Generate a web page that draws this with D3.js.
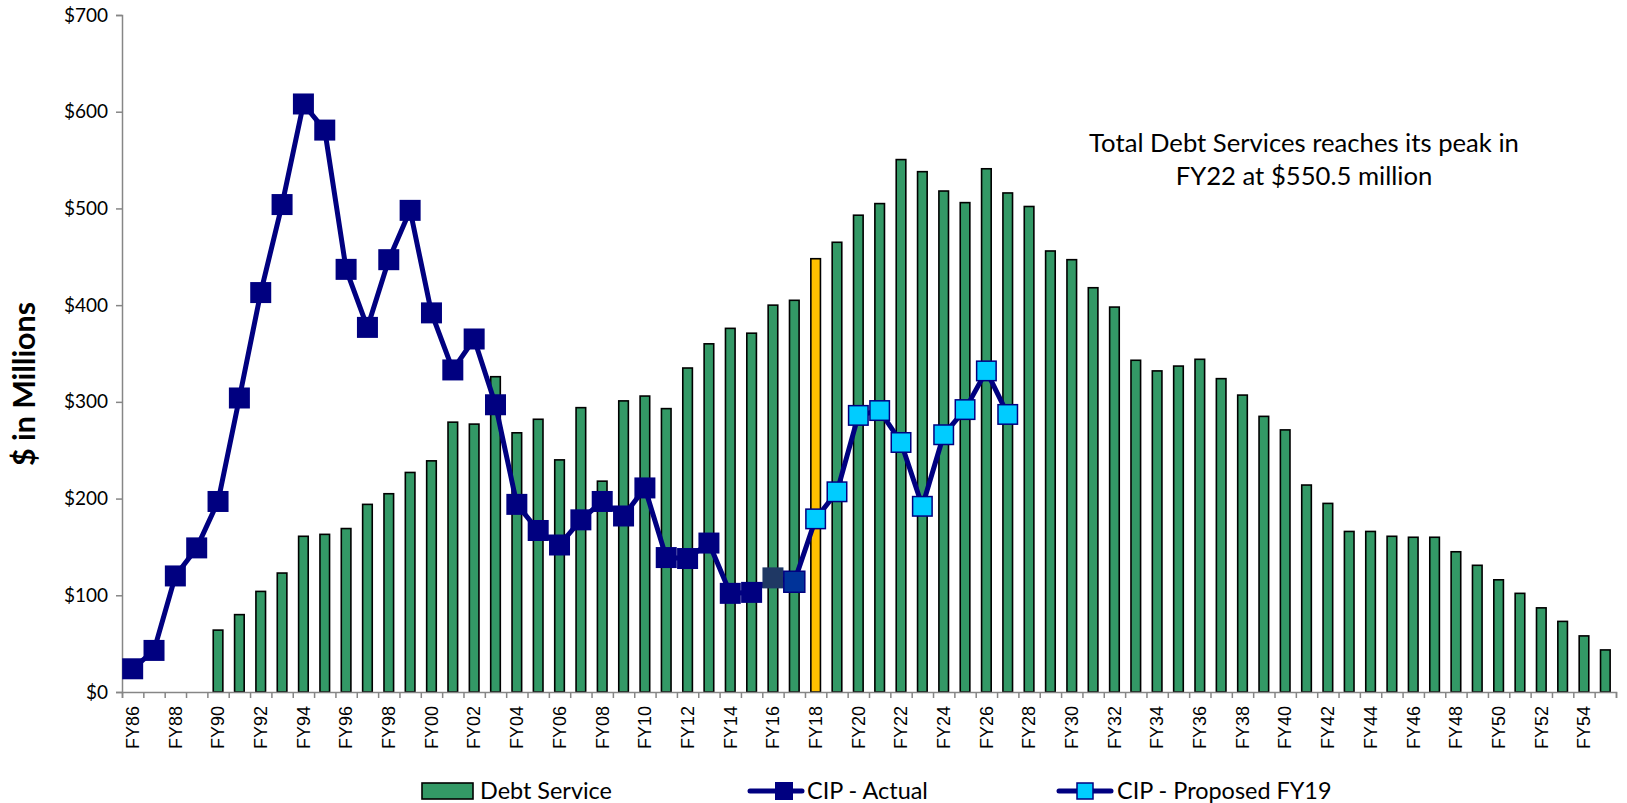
<!DOCTYPE html>
<html>
<head>
<meta charset="utf-8">
<script src="https://cdn.jsdelivr.net/npm/d3@7"></script>
<style>
  body { margin: 0; background: #fff; }
  svg { display: block; }
</style>
</head>
<body>
<svg id="chart"></svg>
<script>
// fiscal years FY86 .. FY55
const years = d3.range(1986, 2056).map(y => 'FY' + String(y % 100).padStart(2, '0'));

// Debt Service, FY90 .. FY55 ($ millions)
const debtYears = years.slice(4);
const debtService = [
  64, 80, 104, 123, 161, 163, 169, 194, 205, 227,
  239, 279, 277, 326, 268, 282, 240, 294, 218, 301,
  306, 293, 335, 360, 376, 371, 400, 405, 448, 465,
  493, 505, 550.5, 538, 518, 506, 541, 516, 502, 456,
  447, 418, 398, 343, 332, 337, 344, 324, 307, 285,
  271, 214, 195, 166, 166, 161, 160, 160, 145, 131,
  116, 102, 87, 73, 58, 43.5
];

// CIP - Actual, FY86 .. FY17
const cipActualYears = years.slice(0, 32);
const cipActual = [
  24, 43, 120, 149, 197, 304, 413, 504, 608, 581,
  437, 377, 447, 498, 392, 333, 365, 297, 194, 167,
  152, 178, 197, 182, 211, 139, 138, 154, 102, 103,
  118, 114
];

// CIP - Proposed FY19, FY18 .. FY27
const cipProposedYears = years.slice(32, 42);
const cipProposed = [179, 207, 286, 291, 258, 192, 266, 292, 332, 287];

const yTicks = [0, 100, 200, 300, 400, 500, 600, 700];

const W = 1627, H = 803;
const mLeft = 122, mRight = 1616, mTop = 15, mBottom = 692;

const svg = d3.select('#chart').attr('width', W).attr('height', H);

const x = d3.scaleBand()
  .domain(years)
  .range([mLeft, mRight])
  .paddingInner(0.55)
  .paddingOuter(0.275);
const cx = d => x(d) + x.bandwidth() / 2;

const y = d3.scaleLinear().domain([0, 700]).range([mBottom, mTop]);

const navy = '#000080';
const calibri = 'Lato, "Open Sans", sans-serif';

// scale a text's font size so it spans the wanted width
function fit(sel, width) {
  const base = +sel.attr('font-size');
  const w = sel.node().getComputedTextLength();
  sel.attr('font-size', (base * width / w).toFixed(2));
}

// bars
const bars = debtYears.map((c, i) => ({ c, v: debtService[i] }));
svg.append('g')
  .selectAll('rect')
  .data(bars)
  .join('rect')
    .attr('x', d => x(d.c))
    .attr('y', d => y(d.v))
    .attr('width', x.bandwidth())
    .attr('height', d => y(0) - y(d.v))
    .attr('fill', d => d.c === 'FY18' ? '#FFC000' : '#339966')
    .attr('stroke', '#000')
    .attr('stroke-width', 1.6);

// axes
const yAxis = d3.axisLeft(y).tickValues(yTicks).tickFormat(d => '$' + d).tickSize(6).tickPadding(8);
const gy = svg.append('g').attr('transform', `translate(${mLeft},0)`).call(yAxis);
gy.selectAll('path, line').attr('stroke', '#868686').attr('stroke-width', 1.5);
gy.selectAll('text').attr('font-family', calibri).attr('font-size', 19).attr('fill', '#000');

const xb = d3.scaleLinear().domain([0, years.length]).range([mLeft, mRight]);
const gxTicks = svg.append('g').attr('transform', `translate(0,${mBottom})`)
  .call(d3.axisBottom(xb).tickValues(d3.range(0, years.length + 1)).tickSize(6).tickFormat(''));
gxTicks.selectAll('path, line').attr('stroke', '#868686').attr('stroke-width', 1.5);

const gx = svg.append('g').attr('transform', `translate(0,${mBottom})`)
  .call(d3.axisBottom(x).tickSize(0).tickFormat((d, i) => i % 2 === 0 ? d : ''));
gx.select('.domain').remove();
gx.selectAll('text')
  .attr('font-family', '"Liberation Sans", Arial, sans-serif')
  .attr('font-size', 18)
  .attr('fill', '#000')
  .attr('text-anchor', 'end')
  .attr('transform', 'rotate(-90)')
  .attr('x', -14)
  .attr('y', 0)
  .attr('dy', '0.35em');

// lines
const line = d3.line().x(d => cx(d.c)).y(d => y(d.v));
const actualPts = cipActualYears.map((c, i) => ({ c, v: cipActual[i] }));
const proposedPts = cipProposedYears.map((c, i) => ({ c, v: cipProposed[i] }));

svg.append('path')
  .datum(actualPts.concat(proposedPts))
  .attr('d', line)
  .attr('fill', 'none')
  .attr('stroke', navy)
  .attr('stroke-width', 5)
  .attr('stroke-linejoin', 'round');

const ms = 21;
const actualFill = { FY16: '#1F3864', FY17: '#003399' };
svg.append('g')
  .selectAll('rect')
  .data(actualPts)
  .join('rect')
    .attr('x', d => cx(d.c) - ms / 2)
    .attr('y', d => y(d.v) - ms / 2)
    .attr('width', ms)
    .attr('height', ms)
    .attr('fill', d => actualFill[d.c] || navy)
    .attr('stroke', d => d.c === 'FY17' ? navy : 'none')
    .attr('stroke-width', 1.5);

svg.append('g')
  .selectAll('rect')
  .data(proposedPts)
  .join('rect')
    .attr('x', d => cx(d.c) - ms / 2 + 0.75)
    .attr('y', d => y(d.v) - ms / 2 + 0.75)
    .attr('width', ms - 1.5)
    .attr('height', ms - 1.5)
    .attr('fill', '#00CCFF')
    .attr('stroke', navy)
    .attr('stroke-width', 1.5);

// y title
const yTitle = svg.append('text')
  .attr('transform', 'translate(35,384) rotate(-90)')
  .attr('text-anchor', 'middle')
  .attr('font-family', calibri)
  .attr('font-weight', 'bold')
  .attr('font-size', 25)
  .text('$ in Millions');
fit(yTitle, 164);

// annotation
const note1 = svg.append('text')
  .attr('x', 1304).attr('y', 152)
  .attr('text-anchor', 'middle')
  .attr('font-family', calibri)
  .attr('font-size', 24)
  .text('Total Debt Services reaches its peak in');
fit(note1, 430);
svg.append('text')
  .attr('x', 1304).attr('y', 185)
  .attr('text-anchor', 'middle')
  .attr('font-family', calibri)
  .attr('font-size', note1.attr('font-size'))
  .text('FY22 at $550.5 million');

// legend
const lg = svg.append('g').attr('font-family', calibri);
const ly = 791;
lg.append('rect').attr('x', 422).attr('y', ly - 8).attr('width', 51).attr('height', 16)
  .attr('fill', '#339966').attr('stroke', '#000').attr('stroke-width', 1.6);
const lgText = lg.append('text').attr('x', 480).attr('y', ly).attr('dy', '0.35em')
  .attr('font-size', 24).text('Debt Service');
fit(lgText, 132);
const lfs = lgText.attr('font-size');

lg.append('line').attr('x1', 750).attr('x2', 802).attr('y1', ly).attr('y2', ly)
  .attr('stroke', navy).attr('stroke-width', 5).attr('stroke-linecap', 'round');
lg.append('rect').attr('x', 775).attr('y', ly - 9).attr('width', 18).attr('height', 18).attr('fill', navy);
lg.append('text').attr('x', 807).attr('y', ly).attr('dy', '0.35em').attr('font-size', lfs).text('CIP - Actual');

lg.append('line').attr('x1', 1059).attr('x2', 1111).attr('y1', ly).attr('y2', ly)
  .attr('stroke', navy).attr('stroke-width', 5).attr('stroke-linecap', 'round');
lg.append('rect').attr('x', 1077).attr('y', ly - 8).attr('width', 16).attr('height', 16)
  .attr('fill', '#00CCFF').attr('stroke', navy).attr('stroke-width', 1.5);
lg.append('text').attr('x', 1117).attr('y', ly).attr('dy', '0.35em').attr('font-size', lfs).text('CIP - Proposed FY19');
</script>
</body>
</html>
